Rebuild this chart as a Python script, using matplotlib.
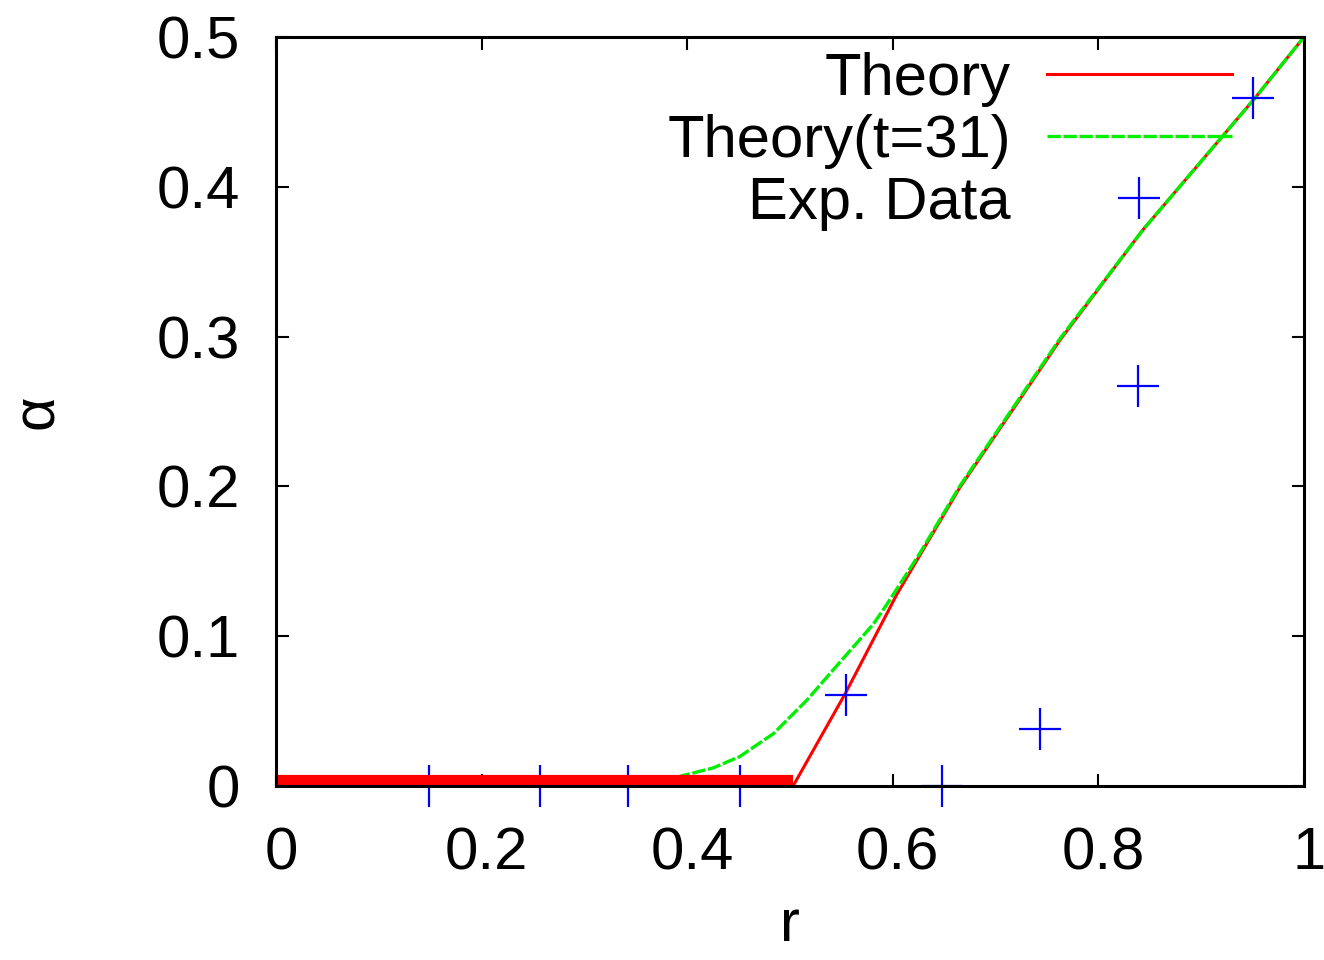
import numpy as np
import matplotlib
matplotlib.use("Agg")
import matplotlib.pyplot as plt
from matplotlib.transforms import ScaledTranslation

plt.rcParams['font.family'] = ['Liberation Sans', 'DejaVu Sans']

# theory curve (alpha vs r)
r_theory = [0.0, 0.503, 0.554, 0.604, 0.665, 0.763, 0.843, 0.952, 1.0]
a_theory = [0.0, 0.0, 0.062, 0.128, 0.199, 0.298, 0.371, 0.459, 0.5]

# theory at t=31
r_t31 = [0.36, 0.396, 0.425, 0.451, 0.484, 0.516, 0.549, 0.581, 0.594,
         0.626, 0.665, 0.763, 0.843, 0.952, 1.0]
a_t31 = [0.0, 0.007, 0.012, 0.0196, 0.035, 0.057, 0.083, 0.108, 0.121,
         0.155, 0.2, 0.299, 0.371, 0.459, 0.5]

# experimental data
r_exp = [0.149, 0.257, 0.342, 0.451, 0.648, 0.554, 0.743, 0.839, 0.950]
a_exp = [0.0, 0.0, 0.0, 0.0, 0.0, 0.061, 0.038, 0.267, 0.459]

xticks = [0, 0.2, 0.4, 0.6, 0.8, 1]
xticklabels = ["0", "0.2", "0.4", "0.6", "0.8", "1"]
yticks = [0, 0.1, 0.2, 0.3, 0.4, 0.5]
yticklabels = ["0", "0.1", "0.2", "0.3", "0.4", "0.5"]

fs = 43

fig = plt.figure(figsize=(13.24, 9.6), dpi=100)
ax = fig.add_axes([276/1324, 1 - 786/960, 1028/1324, 749/960])

# flat part of the theory drawn as a heavy band along zero
flat = [i for i, a in enumerate(a_theory) if a == 0]
ax.plot([r_theory[i] for i in flat], [a_theory[i] for i in flat],
        color="#ff0000", lw=16, solid_capstyle="butt", zorder=2.2)
l1, = ax.plot(r_theory[flat[-1]:], a_theory[flat[-1]:], color="#ff0000",
              lw=2.2, zorder=2.0, label="Theory")
l2, = ax.plot(r_t31, a_t31, color="#00ee00", lw=2.4, dashes=(4, 0.8),
              zorder=2.05, label="Theory(t=31)")
l3, = ax.plot(r_exp, a_exp, ls="none", marker="+", ms=30, mew=1.6,
              color="#0000ff", clip_on=False, zorder=2.1, label="Exp. Data")

ax.set_xlim(0, 1)
ax.set_ylim(0, 0.5)
ax.set_xticks(xticks)
ax.set_xticklabels(xticklabels)
ax.set_yticks(yticks)
ax.set_yticklabels(yticklabels)
ax.tick_params(direction="in", length=9, width=1.5, top=True, right=True,
               labelsize=fs)
ax.tick_params(axis="x", pad=29)
ax.tick_params(axis="y", pad=26)
for lab in ax.get_xticklabels():
    lab.set_transform(lab.get_transform() + ScaledTranslation(0.05, 0, fig.dpi_scale_trans))
for sp in ax.spines.values():
    sp.set_linewidth(2.2)

ax.set_xlabel("r", fontsize=fs, labelpad=12)
ax.set_ylabel("α", fontsize=fs)
ax.yaxis.set_label_coords(-0.205, 0.5)

ax.legend(handles=[l1, l2, l3], loc="upper right", bbox_to_anchor=(0.93, 0.98),
          frameon=False, markerfirst=False, fontsize=fs, handlelength=3.1,
          handletextpad=0.6, labelspacing=0.12, borderpad=0, borderaxespad=0,
          numpoints=1)

fig.savefig("out.png", dpi=100)
